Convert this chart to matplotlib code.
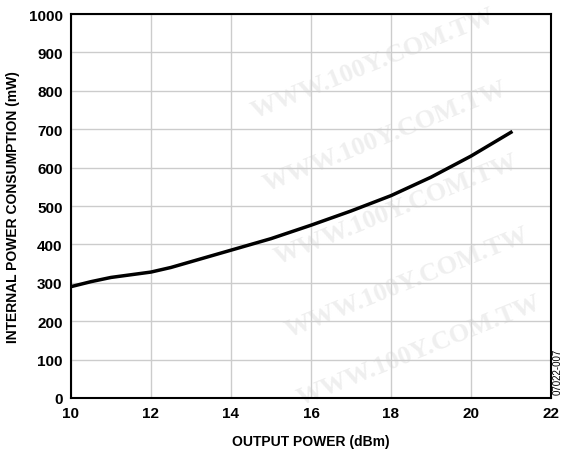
import matplotlib.pyplot as plt

# data
out_dbm = [10, 10.5, 11, 11.5, 12, 12.5, 13, 14, 15, 16, 17, 18, 19, 20, 21]
power_mw = [290, 303, 314, 321, 328, 340, 355, 385, 415, 450, 487, 527, 575, 630, 692]

xticks = [10, 12, 14, 16, 18, 20, 22]
yticks = list(range(0, 1001, 100))

plt.rcParams['font.family'] = ['Liberation Sans', 'DejaVu Sans']

fig = plt.figure(figsize=(5.66, 4.56), dpi=100)
ax = fig.add_axes([0.1254, 0.125, 0.848, 0.842])

# faint watermark text, kept behind the axes
wm = "WWW.100Y.COM.TW"
for (x, y) in [(0.66, 0.86), (0.68, 0.70), (0.70, 0.54),
               (0.72, 0.38), (0.74, 0.23)]:
    fig.text(x, y, wm, rotation=22, color='#efefef', fontsize=19,
             family='Liberation Serif', weight='bold', ha='center', va='center',
             zorder=-1)

ax.set_facecolor('none')
ax.plot(out_dbm, power_mw, color='black', lw=2.5, zorder=3)

ax.set_xlim(10, 22)
ax.set_ylim(0, 1000)
ax.set_xticks(xticks)
ax.set_yticks(yticks)
ax.grid(True, color='#cccccc', lw=1.0)
ax.tick_params(axis='y', length=0, labelsize=11, pad=6)
ax.tick_params(axis='x', length=0, labelsize=11, pad=6)
for lab in ax.get_xticklabels() + ax.get_yticklabels():
    lab.set_fontweight('bold')
for s in ax.spines.values():
    s.set_linewidth(1.5)

ax.set_xlabel("OUTPUT POWER (dBm)", fontsize=10, fontweight='bold', labelpad=10)
ax.set_ylabel("INTERNAL POWER CONSUMPTION (mW)", fontsize=10, fontweight='bold', labelpad=6)

fig.text(0.985, 0.184, "07022-007", rotation=90, fontsize=7, ha='center', va='center')

fig.savefig("out.png", dpi=100)
